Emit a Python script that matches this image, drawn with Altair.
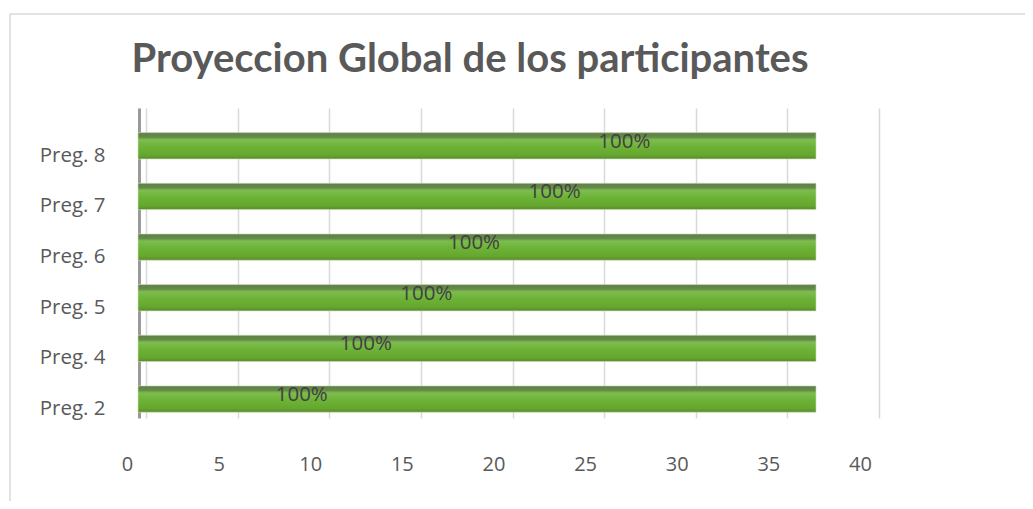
import altair as alt
import pandas as pd

categories = ["Preg. 8", "Preg. 7", "Preg. 6", "Preg. 5", "Preg. 4", "Preg. 2"]
values = [37, 37, 37, 37, 37, 37]
labels = ["100%", "100%", "100%", "100%", "100%", "100%"]
label_x = [26.1, 22.3, 17.9, 15.3, 12.0, 8.5]
x_ticks = [0, 5, 10, 15, 20, 25, 30, 35, 40]
title_text = ["Proyeccion Global de los participantes"]

df = pd.DataFrame({"cat": categories, "val": values, "lab": labels, "lx": label_x})
tdf = pd.DataFrame({"t": title_text})

TXT = "#595959"
LABEL_FONT = "Open Sans"

ysc = alt.Scale(domain=categories, paddingInner=0.48, paddingOuter=0.3, align=0.81)
xsc = alt.Scale(domain=[0, 40], nice=False)

grad = alt.LinearGradient(
    gradient="linear", x1=0, y1=0, x2=0, y2=1,
    stops=[
        alt.GradientStop(color="#5f7f48", offset=0.0),
        alt.GradientStop(color="#658a48", offset=0.17),
        alt.GradientStop(color="#7dbd4f", offset=0.27),
        alt.GradientStop(color="#6cb236", offset=0.55),
        alt.GradientStop(color="#66a72f", offset=0.85),
        alt.GradientStop(color="#5a8a2e", offset=1.0),
    ],
)

border = alt.Chart(tdf).mark_rect(
    fill="transparent", stroke="#d9d9d9", strokeWidth=1.5
).encode(
    x=alt.value(-136), x2=alt.value(2000), y=alt.value(-94), y2=alt.value(1000)
)

title = alt.Chart(tdf).mark_text(
    font="Lato", fontSize=40, fontWeight="bold", color=TXT,
    align="center", baseline="alphabetic"
).encode(
    x=alt.value(324), y=alt.value(-36), text="t:N"
)

bars = alt.Chart(df).mark_bar(color=grad, xOffset=-8, stroke="#cfe3b8", strokeWidth=0.6).encode(
    y=alt.Y("cat:N", scale=ysc, sort=categories,
            axis=alt.Axis(title=None, ticks=False, labelPadding=34, labelOffset=10,
                          offset=7, domainColor="#9a9a9a", domainWidth=3,
                          labelFont=LABEL_FONT, labelFontSize=20.5, labelColor=TXT,
                          grid=False)),
    x=alt.X("val:Q", scale=xsc,
            axis=alt.Axis(title=None, values=x_ticks, ticks=False, domain=False,
                          labelPadding=36, labelOffset=-19, labelFlush=False,
                          labelFont=LABEL_FONT, labelFontSize=20, labelColor=TXT,
                          grid=True, gridColor="#d9d9d9", gridWidth=1.5)),
)

texts = alt.Chart(df).mark_text(
    font=LABEL_FONT, fontSize=20.5, color="#404040", dy=-4
).encode(
    y=alt.Y("cat:N", scale=ysc, sort=categories),
    x=alt.X("lx:Q", scale=xsc),
    text="lab:N",
)

chart = alt.layer(border, title, bars, texts).properties(
    width=733,
    height=310,
    padding={"left": 138, "top": 100, "right": 146, "bottom": 83},
    autosize=alt.AutoSizeParams(type="none"),
).configure(background="white").configure_view(stroke=None)

chart.save("out.html", embed_options={"renderer": "svg", "actions": False})
